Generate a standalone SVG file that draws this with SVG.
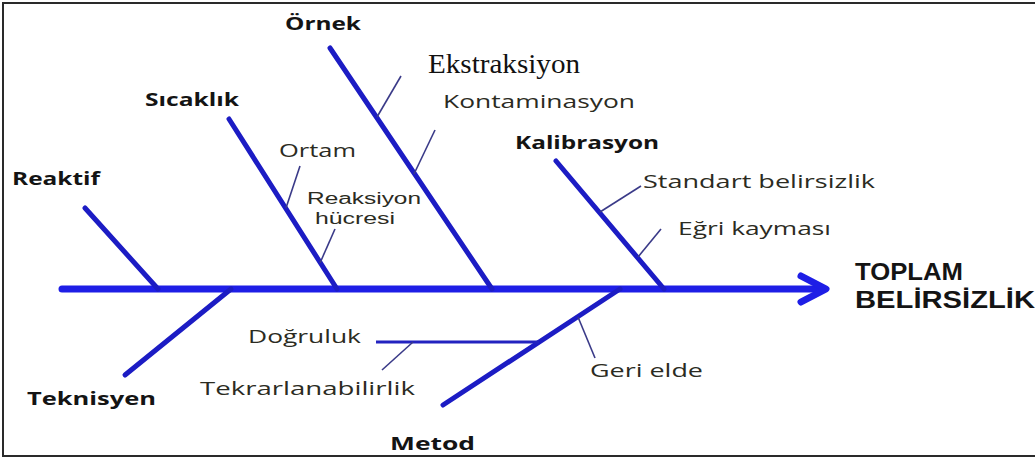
<svg xmlns="http://www.w3.org/2000/svg" width="1035" height="459" viewBox="0 0 1035 459">
<defs>
<style>
.bone{stroke:#1c1cc4;stroke-width:5;stroke-linecap:round;fill:none}
.spine{stroke:#1e1ee6;stroke-width:7;stroke-linecap:round;stroke-linejoin:round;fill:none}
.sub{stroke:#3a3a88;stroke-width:1.6;fill:none}
.cat{font-family:"Open Sans","DejaVu Sans",sans-serif;font-weight:bold;font-size:18px;fill:#141414}
.lbl{font-family:"Open Sans","DejaVu Sans",sans-serif;font-size:17.5px;fill:#2b2b22}
.lbl2{font-family:"Liberation Sans",Arial,sans-serif;font-size:16px;fill:#2b2b22}
.big{font-family:"Liberation Sans",Arial,sans-serif;font-weight:bold;font-size:24px;fill:#141414}
.serif{font-family:"Liberation Serif","Times New Roman",serif;font-size:27px;fill:#111}
</style>
</defs>
<rect x="0" y="0" width="1035" height="459" fill="#ffffff"/>
<rect x="3" y="3" width="1040" height="453" fill="none" stroke="#2a2a2a" stroke-width="2"/>
<g id="connectors">
<line class="spine" x1="62" y1="289" x2="824" y2="289"/>
<polyline class="spine" points="801,276 826,289 801,302"/>
<line class="bone" x1="85" y1="208" x2="158" y2="289"/>
<line class="bone" x1="229" y1="119" x2="337" y2="289"/>
<line class="bone" x1="330" y1="48" x2="492" y2="289"/>
<line class="bone" x1="556" y1="161" x2="664" y2="289"/>
<line class="bone" x1="231" y1="289" x2="125" y2="375"/>
<line class="bone" x1="620" y1="289" x2="443" y2="405"/>
<line x1="376" y1="342" x2="539" y2="342" stroke="#2323c0" stroke-width="3"/>
<line class="sub" x1="377" y1="117" x2="401" y2="76"/>
<line class="sub" x1="414" y1="174" x2="435" y2="130"/>
<line class="sub" x1="286" y1="208" x2="300" y2="166"/>
<line class="sub" x1="320" y1="263" x2="335" y2="229"/>
<line class="sub" x1="600" y1="212" x2="641" y2="186"/>
<line class="sub" x1="638" y1="257" x2="661" y2="229"/>
<line class="sub" x1="413" y1="342" x2="382" y2="370"/>
<line class="sub" x1="578" y1="317" x2="595" y2="358"/>
</g>
<g id="node-reaktif"><text class="cat" x="12" y="185" textLength="88" lengthAdjust="spacingAndGlyphs">Reaktif</text></g>
<g id="node-sicaklik"><text class="cat" x="145" y="106" textLength="94" lengthAdjust="spacingAndGlyphs">Sıcaklık</text></g>
<g id="node-ornek"><text class="cat" x="285" y="30" textLength="76" lengthAdjust="spacingAndGlyphs">Örnek</text></g>
<g id="node-kalibrasyon"><text class="cat" x="515" y="149" textLength="144" lengthAdjust="spacingAndGlyphs">Kalibrasyon</text></g>
<g id="node-teknisyen"><text class="cat" x="27" y="405" textLength="129" lengthAdjust="spacingAndGlyphs">Teknisyen</text></g>
<g id="node-metod"><text class="cat" x="390" y="450" textLength="85" lengthAdjust="spacingAndGlyphs">Metod</text></g>
<g id="node-toplam">
<text class="big" x="855" y="280" textLength="108" lengthAdjust="spacingAndGlyphs">TOPLAM</text>
<text class="big" x="855" y="308" textLength="180" lengthAdjust="spacingAndGlyphs">BELİRSİZLİK</text>
</g>
<g id="node-ekstraksiyon"><text class="serif" x="428" y="73" textLength="152" lengthAdjust="spacingAndGlyphs">Ekstraksiyon</text></g>
<g id="node-kontaminasyon"><text class="lbl" x="443" y="108" textLength="192" lengthAdjust="spacingAndGlyphs">Kontaminasyon</text></g>
<g id="node-ortam"><text class="lbl" x="279" y="157" textLength="77" lengthAdjust="spacingAndGlyphs">Ortam</text></g>
<g id="node-reaksiyon">
<text class="lbl2" x="307" y="204" textLength="114" lengthAdjust="spacingAndGlyphs">Reaksiyon</text>
<text class="lbl2" x="315" y="224" textLength="80" lengthAdjust="spacingAndGlyphs">hücresi</text>
</g>
<g id="node-standart"><text class="lbl" x="643" y="188" textLength="232" lengthAdjust="spacingAndGlyphs">Standart belirsizlik</text></g>
<g id="node-egri"><text class="lbl" x="678" y="235" textLength="153" lengthAdjust="spacingAndGlyphs">Eğri kayması</text></g>
<g id="node-dogruluk"><text class="lbl" x="248" y="343" textLength="113" lengthAdjust="spacingAndGlyphs">Doğruluk</text></g>
<g id="node-tekrar"><text class="lbl" x="200" y="395" textLength="215" lengthAdjust="spacingAndGlyphs">Tekrarlanabilirlik</text></g>
<g id="node-geri"><text class="lbl" x="590" y="377" textLength="113" lengthAdjust="spacingAndGlyphs">Geri elde</text></g>
</svg>
